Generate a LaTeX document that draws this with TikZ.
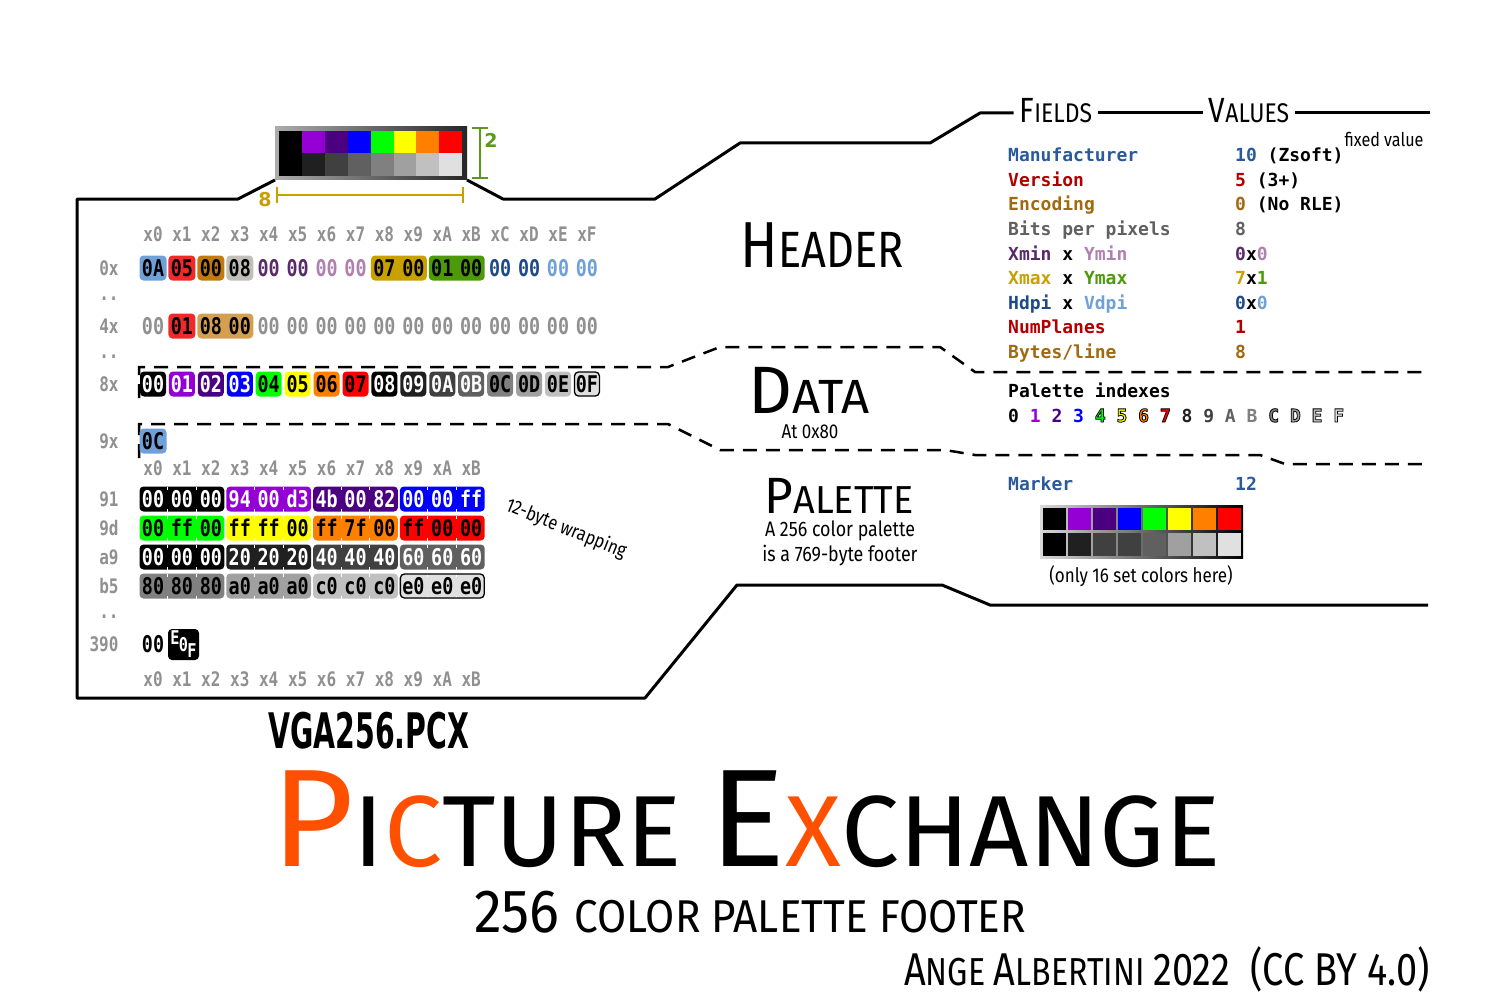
\documentclass[tikz,border=0pt]{standalone}
\usepackage{fontspec}
\setmainfont{Fira Sans}
\newfontfamily\hexfont{DejaVu Sans Mono}[FakeStretch=0.8]
\newfontfamily\monofont{DejaVu Sans Mono}
\newfontfamily\handfont{Fira Sans}[FakeStretch=0.85]
\newfontfamily\vgafont{DejaVu Sans}[FakeStretch=0.58]
\newfontfamily\labfont{DejaVu Sans}
\definecolor{hgray}{HTML}{909090}
\definecolor{cblue}{HTML}{6FA0D8}
\definecolor{cred}{HTML}{EE2A2A}
\definecolor{cbrown}{HTML}{C07A10}
\definecolor{clgray}{HTML}{C0C0B8}
\definecolor{cpurple}{HTML}{5A2A6A}
\definecolor{cpink}{HTML}{B080B0}
\definecolor{cgold}{HTML}{C8A000}
\definecolor{cgreen}{HTML}{4C9A0A}
\definecolor{cdblue}{HTML}{1F4A8A}
\definecolor{ctan}{HTML}{D4A050}
\definecolor{pviolet}{HTML}{9400D3}
\definecolor{pindigo}{HTML}{4B0082}
\definecolor{pblue}{HTML}{0000FF}
\definecolor{pgreen}{HTML}{00FF00}
\definecolor{pyellow}{HTML}{FFFF00}
\definecolor{porange}{HTML}{FF7F00}
\definecolor{pred}{HTML}{FF0000}
\definecolor{g20}{HTML}{202020}
\definecolor{g40}{HTML}{404040}
\definecolor{g60}{HTML}{606060}
\definecolor{g80}{HTML}{808080}
\definecolor{ga0}{HTML}{A0A0A0}
\definecolor{gc0}{HTML}{C0C0C0}
\definecolor{ge0}{HTML}{E0E0E0}
\definecolor{fblue}{HTML}{2A5A9A}
\definecolor{fred}{HTML}{B00000}
\definecolor{fbrown}{HTML}{A06A10}
\definecolor{fgray}{HTML}{606060}
\definecolor{torange}{HTML}{FF5000}
\definecolor{bgreen}{HTML}{5A9A1A}
\newcommand\fs[1]{\fontsize{#1}{#1}\selectfont}
\newcommand\cx[1]{(153+28.93*(#1))}
\newcommand\cellbox[4]{\fill[#4, rounded corners=4pt] ({\cx{#1}-13.5},{#3-12.5}) rectangle ({\cx{#2}+13.5},{#3+12.5});}
\newcommand\hx[5]{\node[hx,text=#4] (#5) at ({\cx{#1}},#2) {#3};}
\newcommand\grp[8]{% startcol, y, fill, textcol, b1,b2,b3, name
  \cellbox{#1}{#1+2}{#2}{#3}
  \hx{#1}{#2}{#5}{#4}{#8a}\hx{#1+1}{#2}{#6}{#4}{#8b}\hx{#1+2}{#2}{#7}{#4}{#8c}
  \draw[white,line width=1pt] ({\cx{#1}+14.46},{#2-12.5}) -- ++(0,3) ({\cx{#1}+14.46},{#2+12.5}) -- ++(0,-3)
                               ({\cx{#1+1}+14.46},{#2-12.5}) -- ++(0,3) ({\cx{#1+1}+14.46},{#2+12.5}) -- ++(0,-3);}
% outlined glyphs: fill in colour, stroke in black (text render mode 2)
\makeatletter
\newcommand\outl[2]{\textcolor{#1}{\pgfsys@invoke{0 G 2 Tr 0.8 w}#2\pgfsys@invoke{0 Tr 0.4 w}}}
\makeatother
\begin{document}
\begin{tikzpicture}[x=1pt,y=-1pt,
  hx/.style={font=\hexfont\bfseries\fs{23}, inner sep=0pt},
  lab/.style={font=\hexfont\bfseries\fs{20}, inner sep=0pt, text=hgray},
  fld/.style={font=\monofont\bfseries\fs{18}, inner sep=0pt, anchor=base west},
  hand/.style={font=\handfont, inner sep=0pt, anchor=base},
  eofl/.style={font=\hexfont\bfseries\fs{19}, text=white, inner sep=0pt},
  outl/.style={line width=3pt, line join=round},
  dsh/.style={line width=2.5pt, dash pattern=on 14pt off 9pt}]
\useasboundingbox (0,0) rectangle (1500,1006);
\fill[white] (0,0) rectangle (1500,1006);

% ---------- thumbnail image ----------
\shade[left color=gray!65, right color=gray!30!black] (275,127) rectangle (467,180);
\foreach \c [count=\i from 0] in {black,pviolet,pindigo,pblue,pgreen,pyellow,porange,pred}
  {\fill[\c] ({279+22.9*\i},131) rectangle ({279+22.9*(\i+1)},153.5);}
\foreach \c [count=\i from 0] in {black,g20,g40,g60,g80,ga0,gc0,ge0}
  {\fill[\c] ({279+22.9*\i},153.5) rectangle ({279+22.9*(\i+1)},176);}
\draw[bgreen,line width=2.5pt] (480,128) -- (480,178) (472,128) -- (488,128) (472,178) -- (488,178);
\node[font=\labfont\bfseries\fs{19}, text=bgreen, inner sep=0pt] (two) at (491,140) {2};
\draw[cgold,line width=2.5pt] (277,195) -- (463,195) (277,187) -- (277,203) (463,187) -- (463,203);
\node[font=\labfont\bfseries\fs{19}, text=cgold, inner sep=0pt] (eight) at (265,200) {8};

% ---------- outline ----------
\node[hand, anchor=base] (fields) at (1056,123) {\fs{35}F\fs{27}IELDS};
\node[hand, anchor=base] (values) at (1249,123) {\fs{35}V\fs{27}ALUES};
\draw[outl] (275,180) -- (238,199) -- (77,199) -- (77,698) -- (645,698) -- (737,585) -- (942,585) -- (990,605) -- (1428,605);
\draw[outl] (467,180) -- (503,199) -- (655,199) -- (740,143) -- (930,143) -- (980,113) -- ([xshift=-6pt]fields.west |- 0,113);
\draw[outl] ([xshift=6pt]fields.east |- 0,113) -- ([xshift=-6pt]values.west |- 0,113);
\draw[outl] ([xshift=6pt]values.east |- 0,113) -- (1430,113);

% ---------- dashed separators ----------
\draw[dsh] (139,398) -- (139,367) -- (668,367) -- (720,347) -- (940,347) -- (975,372) -- (1430,372);
\draw[dsh] (139,458) -- (139,424) -- (668,424) -- (720,450) -- (945,450) -- (975,455) -- (1260,455) -- (1285,464) -- (1430,464);

% ---------- column headers / row labels ----------
\foreach \t [count=\i from 0] in {0,1,2,3,4,5,6,7,8,9,A,B,C,D,E,F}
  {\node[lab] (ha\i) at ({\cx{\i}},234) {x\t};}
\foreach \t [count=\i from 0] in {0,1,2,3,4,5,6,7,8,9,A,B}
  {\node[lab] (hb\i) at ({\cx{\i}},468) {x\t};
   \node[lab] (hc\i) at ({\cx{\i}},679) {x\t};}
\foreach \t/\y [count=\k] in {0x/268,4x/326,8x/384,9x/441,91/499,9d/528,a9/557,b5/586}
  {\node[lab] (rl\k) at (109,\y) {\t};}
\node[lab] (rl9) at (104,644) {390};
\foreach \y [count=\k] in {300,358,618}
  {\node[lab,anchor=base] (dots\k) at (109,\y) {..};}

% ---------- row 0x ----------
\cellbox{0}{0}{268}{cblue}\hx{0}{268}{0A}{black}{a0}
\cellbox{1}{1}{268}{cred}\hx{1}{268}{05}{black}{a1}
\cellbox{2}{2}{268}{cbrown}\hx{2}{268}{00}{black}{a2}
\cellbox{3}{3}{268}{clgray}\hx{3}{268}{08}{black}{a3}
\hx{4}{268}{00}{cpurple}{a4}\hx{5}{268}{00}{cpurple}{a5}
\hx{6}{268}{00}{cpink}{a6}\hx{7}{268}{00}{cpink}{a7}
\cellbox{8}{9}{268}{cgold}\hx{8}{268}{07}{black}{a8}\hx{9}{268}{00}{black}{a9}
\cellbox{10}{11}{268}{cgreen}\hx{10}{268}{01}{black}{a10}\hx{11}{268}{00}{black}{a11}
\hx{12}{268}{00}{cdblue}{a12}\hx{13}{268}{00}{cdblue}{a13}
\hx{14}{268}{00}{cblue}{a14}\hx{15}{268}{00}{cblue}{a15}

% ---------- row 4x ----------
\hx{0}{326}{00}{hgray}{b0}
\cellbox{1}{1}{326}{cred}\hx{1}{326}{01}{black}{b1}
\cellbox{2}{3}{326}{ctan}\hx{2}{326}{08}{black}{b2}\hx{3}{326}{00}{black}{b3}
\foreach \i in {4,...,15} {\hx{\i}{326}{00}{hgray}{b\i}}

% ---------- row 8x ----------
\foreach \t/\f/\c [count=\i from 0] in {00/black/white,01/pviolet/white,02/pindigo/white,03/pblue/white,
   04/pgreen/black,05/pyellow/black,06/porange/black,07/pred/black,08/black/white,09/g20/white,
   0A/g40/white,0B/g60/white,0C/g80/black,0D/ga0/black,0E/gc0/black}
  {\fill[\f, rounded corners=4pt] ({\cx{\i}-13},371.5) rectangle ({\cx{\i}+13},396.5);
   \hx{\i}{384}{\t}{\c}{c\i}}
\filldraw[fill=ge0, draw=black, line width=1.3pt, rounded corners=4pt] ({\cx{15}-12.5},372) rectangle ({\cx{15}+12.5},396);
\hx{15}{384}{0F}{black}{c15}

% ---------- row 9x ----------
\cellbox{0}{0}{441}{cblue}\hx{0}{441}{0C}{black}{d0}

% ---------- palette rows ----------
\grp{0}{499}{black}{white}{00}{00}{00}{pa0}
\grp{3}{499}{pviolet}{white}{94}{00}{d3}{pa3}
\grp{6}{499}{pindigo}{white}{4b}{00}{82}{pa6}
\grp{9}{499}{pblue}{white}{00}{00}{ff}{pa9}
\grp{0}{528}{pgreen}{black}{00}{ff}{00}{pb0}
\grp{3}{528}{pyellow}{black}{ff}{ff}{00}{pb3}
\grp{6}{528}{porange}{black}{ff}{7f}{00}{pb6}
\grp{9}{528}{pred}{black}{ff}{00}{00}{pb9}
\grp{0}{557}{black}{white}{00}{00}{00}{pc0}
\grp{3}{557}{g20}{white}{20}{20}{20}{pc3}
\grp{6}{557}{g40}{white}{40}{40}{40}{pc6}
\grp{9}{557}{g60}{white}{60}{60}{60}{pc9}
\grp{0}{586}{g80}{black}{80}{80}{80}{pd0}
\grp{3}{586}{ga0}{black}{a0}{a0}{a0}{pd3}
\grp{6}{586}{gc0}{black}{c0}{c0}{c0}{pd6}
\grp{9}{586}{ge0}{black}{e0}{e0}{e0}{pd9}
\draw[black, line width=1.3pt, rounded corners=4pt] ({\cx{9}-13},{586-12}) rectangle ({\cx{11}+13},{586+12});

\node[hand, rotate=-22, anchor=center, font=\handfont\fs{19.5}] (wrap) at (566,529) {12-byte wrapping};

% ---------- EOF row ----------
\hx{0}{644}{00}{black}{e0}
\fill[black, rounded corners=4pt] (168,629) rectangle (199,660);
\node[eofl] (eofE) at (175,638) {E};
\node[eofl] (eofO) at (183.5,645) {0};
\node[eofl] (eofF) at (192,651) {F};

% ---------- middle labels ----------
\node[hand] (header) at (822,267) {\fs{65}H\fs{51}EADER};
\node[hand] (data) at (809,413) {\scalebox{1.2}[1]{\fs{67}D\fs{48}ATA}};
\node[hand, font=\handfont\fs{20}] (at80) at (810,438) {At 0x80};
\node[hand] (palette) at (839,513) {\scalebox{1.14}[1]{\fs{51}P\fs{39}ALETTE}};
\node[hand, font=\handfont\fs{21}] (pal1) at (840,536) {A 256 color palette};
\node[hand, font=\handfont\fs{21}] (pal2) at (840,561) {is a 769-byte footer};

% ---------- fields ----------
\node[fld, text=fblue] (f1) at (1008,161) {Manufacturer};
\node[fld, text=fred] (f2) at (1008,186) {Version};
\node[fld, text=fbrown] (f3) at (1008,210) {Encoding};
\node[fld, text=fgray] (f4) at (1008,235) {Bits per pixels};
\node[fld] (f5) at (1008,260) {\textcolor{cpurple}{Xmin} x \textcolor{cpink}{Ymin}};
\node[fld] (f6) at (1008,284) {\textcolor{cgold}{Xmax} x \textcolor{cgreen}{Ymax}};
\node[fld] (f7) at (1008,309) {\textcolor{cdblue}{Hdpi} x \textcolor{cblue}{Vdpi}};
\node[fld, text=fred] (f8) at (1008,333) {NumPlanes};
\node[fld, text=fbrown] (f9) at (1008,358) {Bytes/line};
\node[fld] (v1) at (1235,161) {\textcolor{fblue}{10} (Zsoft)};
\node[fld] (v2) at (1235,186) {\textcolor{fred}{5} (3+)};
\node[fld] (v3) at (1235,210) {\textcolor{fbrown}{0} (No RLE)};
\node[fld, text=fgray] (v4) at (1235,235) {8};
\node[fld] (v5) at (1235,260) {\textcolor{cpurple}{0}x\textcolor{cpink}{0}};
\node[fld] (v6) at (1235,284) {\textcolor{cgold}{7}x\textcolor{cgreen}{1}};
\node[fld] (v7) at (1235,309) {\textcolor{cdblue}{0}x\textcolor{cblue}{0}};
\node[fld, text=fred] (v8) at (1235,333) {1};
\node[fld, text=fbrown] (v9) at (1235,358) {8};
\node[hand, font=\handfont\fs{19}] (fixed) at (1384,147) {fixed value};

% ---------- palette indexes ----------
\node[fld] (pidx) at (1008,397) {Palette indexes};
\node[fld] (pline) at (1008,422) {0 \textcolor{pviolet}{1} \textcolor{pindigo}{2} \textcolor{pblue}{3} \outl{pgreen}{4} \outl{pyellow}{5} \outl{porange}{6} \outl{pred}{7} \textcolor{g20}{8} \textcolor{g40}{9} \textcolor{g60}{A} \textcolor{g80}{B} \outl{g80}{C} \outl{ga0}{D} \outl{gc0}{E} \outl{ge0}{F}};

% ---------- marker ----------
\node[fld, text=fblue] (mk) at (1008,490) {Marker};
\node[fld, text=fblue] (mk12) at (1235,490) {12};
\shade[left color=gray!30, right color=black] (1040,505) rectangle (1243,558);
\foreach \c [count=\i from 0] in {black,pviolet,pindigo,pblue,pgreen,pyellow,porange,pred}
  {\fill[\c] ({1042.5+25*\i},507.5) rectangle ({1042.5+25*\i+23},530);}
\foreach \c [count=\i from 0] in {black,g20,g40,g40,g60,ga0,gc0,ge0}
  {\fill[\c] ({1042.5+25*\i},532.5) rectangle ({1042.5+25*\i+23},555.5);}
\node[hand, font=\handfont\fs{20}] (only) at (1141,582) {(only 16 set colors here)};

% ---------- titles ----------
\node[font=\vgafont\bfseries\fs{49}, inner sep=0pt, anchor=base west] (vga) at (268,748) {VGA256.PCX};
\node[hand, anchor=base west] (title) at (271,866)
  {\scalebox{1.205}[1]{\color{torange}\fs{139}P\fs{101}\color{black}I\color{torange}C\color{black}TURE \fs{139}E\fs{101}\color{torange}X\color{black}CHANGE}};
\node[hand, anchor=base west] (sub) at (474,932) {\scalebox{1.08}[1]{\fs{61}256 \fs{46}COLOR PALETTE FOOTER}};
\node[hand, anchor=base east] (auth) at (1430,985) {\scalebox{0.97}[1]{\fs{46}A\fs{39}NGE \fs{46}A\fs{39}LBERTINI \fs{46}2022\ \ (CC BY 4.0)}};
\end{tikzpicture}
\end{document}
